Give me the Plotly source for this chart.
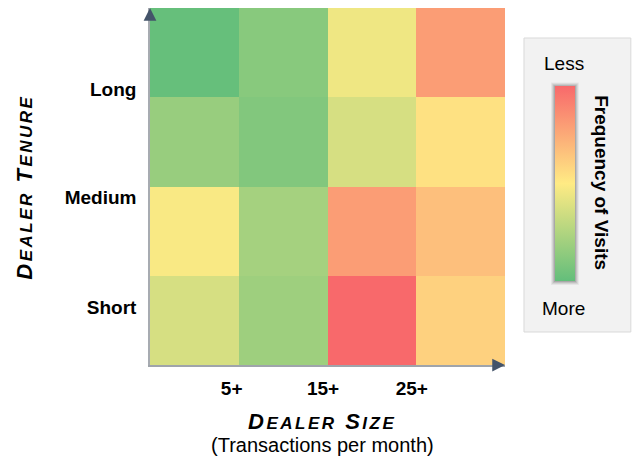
import plotly.graph_objects as go

# ---- data -------------------------------------------------------------
# Visit-scarcity index per cell (0 = visited most often, 100 = least often).
# Columns run left to right by dealer size, rows bottom to top by tenure.
row_1 = [37, 19, 100, 60]   # bottom row
row_2 = [48, 21, 80, 67]
row_3 = [17, 10, 37, 54]
row_4 = [1, 12, 45, 80]     # top row
size_columns = [0, 1, 2, 3]
tenure_rows = [0, 1, 2, 3]

size_tick_labels = ["5+", "15+", "25+"]
size_tick_pos = [0.42, 1.45, 2.45]
tenure_tick_labels = ["Short", "Medium", "Long"]
tenure_tick_pos = [0.15, 1.38, 2.59]

# ---- layout geometry (pixels) ----------------------------------------
W, H = 634, 459
PL, PR, PT, PB = 149.5, 505.0, 8.0, 365.0


def px_x(x):
    return (x - PL) / (PR - PL)


def px_y(y):
    return (PB - y) / (PB - PT)


FONT = "Liberation Sans, Arial, sans-serif"
colorscale = [[0.0, "#63BE7B"], [0.5, "#FFEB84"], [1.0, "#F8696B"]]

fig = go.Figure(
    go.Heatmap(
        x=size_columns,
        y=tenure_rows,
        z=[row_1, row_2, row_3, row_4],
        zmin=0,
        zmax=100,
        colorscale=colorscale,
        hoverinfo="skip",
        colorbar=dict(
            thickness=20,
            lenmode="pixels",
            len=195,
            x=px_x(555),
            xanchor="left",
            y=px_y(183.8),
            yanchor="middle",
            xpad=0,
            ypad=0,
            outlinewidth=0,
            ticks="",
            showticklabels=False,
        ),
    )
)

shapes = [
    # legend panel
    dict(type="rect", xref="paper", yref="paper",
         x0=px_x(524), x1=px_x(631), y0=px_y(332), y1=px_y(38),
         fillcolor="#F2F2F2", line=dict(color="#D9D9D9", width=1), layer="below"),
]
# soft shadow around the colour bar
for pad, alpha in [(4, 0.05), (3, 0.07), (2, 0.09), (1, 0.12)]:
    shapes.append(dict(type="rect", xref="paper", yref="paper",
                       x0=px_x(555 - pad), x1=px_x(575 + pad),
                       y0=px_y(281 + pad), y1=px_y(86.5 - pad),
                       fillcolor=f"rgba(0,0,0,{alpha})", line=dict(width=0),
                       layer="below"))

ARROW = "#44546A"
SMALL = "font-size:17px"
SPACED = "letter-spacing:2.5px"


def small_caps(word):
    return f"{word[0]}<span style='{SMALL}'>{word[1:]}</span>"


def title_text(*words):
    inner = " ".join(small_caps(w) for w in words)
    return f"<b><i><span style='{SPACED}'>{inner}</span></i></b>"


annotations = [
    # arrow heads on the axes
    dict(xref="paper", yref="paper", x=0, y=1, ax=0, ay=10, text="",
         showarrow=True, arrowhead=2, arrowsize=1.7, arrowwidth=1.5, arrowcolor=ARROW),
    dict(xref="paper", yref="paper", x=1, y=0, ax=-10, ay=0, text="",
         showarrow=True, arrowhead=2, arrowsize=1.7, arrowwidth=1.5, arrowcolor=ARROW),
    # axis titles
    dict(xref="paper", yref="paper", x=px_x(322), y=px_y(421.5), showarrow=False,
         text=title_text("DEALER", "SIZE"),
         font=dict(family=FONT, size=22, color="#000000"), xanchor="center", yanchor="middle"),
    dict(xref="paper", yref="paper", x=px_x(322.5), y=px_y(445), showarrow=False,
         text="(Transactions per month)",
         font=dict(family=FONT, size=20, color="#000000"), xanchor="center", yanchor="middle"),
    dict(xref="paper", yref="paper", x=px_x(23), y=px_y(187), showarrow=False,
         text=title_text("DEALER", "TENURE"),
         textangle=-90,
         font=dict(family=FONT, size=22, color="#000000"), xanchor="center", yanchor="middle"),
    # legend texts
    dict(xref="paper", yref="paper", x=px_x(564), y=px_y(63), showarrow=False,
         text="Less", font=dict(family=FONT, size=19, color="#000000"),
         xanchor="center", yanchor="middle"),
    dict(xref="paper", yref="paper", x=px_x(564), y=px_y(308), showarrow=False,
         text="More", font=dict(family=FONT, size=19, color="#000000"),
         xanchor="center", yanchor="middle"),
    dict(xref="paper", yref="paper", x=px_x(602), y=px_y(183), showarrow=False,
         text="<b>Frequency of Visits</b>", textangle=90,
         font=dict(family=FONT, size=19, color="#000000"),
         xanchor="center", yanchor="middle"),
]

fig.update_layout(
    width=W,
    height=H,
    autosize=False,
    margin=dict(l=PL, r=W - PR, t=PT, b=H - PB, pad=0),
    paper_bgcolor="#FFFFFF",
    plot_bgcolor="#FFFFFF",
    font=dict(family=FONT, color="#000000"),
    shapes=shapes,
    annotations=annotations,
    xaxis=dict(
        range=[-0.5, 3.5],
        tickvals=size_tick_pos,
        ticktext=size_tick_labels,
        ticks="",
        ticklabelstandoff=5,
        tickfont=dict(family=FONT, size=19, color="#000000", weight="bold"),
        showgrid=False,
        zeroline=False,
        showline=True,
        linecolor="#9FA4AB",
        linewidth=1.5,
        fixedrange=True,
    ),
    yaxis=dict(
        range=[-0.5, 3.5],
        tickvals=tenure_tick_pos,
        ticktext=tenure_tick_labels,
        ticks="",
        ticklabelstandoff=8,
        tickfont=dict(family=FONT, size=19, color="#000000", weight="bold"),
        showgrid=False,
        zeroline=False,
        showline=True,
        linecolor="#A7ABB1",
        linewidth=1.5,
        fixedrange=True,
    ),
)

fig.write_html("out.html")
